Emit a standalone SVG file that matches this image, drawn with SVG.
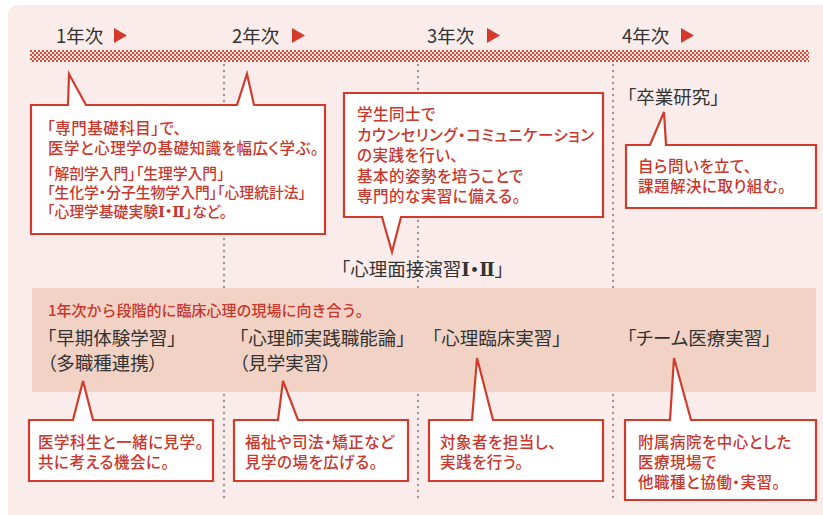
<svg xmlns="http://www.w3.org/2000/svg" width="823" height="515" viewBox="0 0 823 515">
<defs>
<pattern id="chk" width="4" height="4" patternUnits="userSpaceOnUse" x="30" y="50">
<rect width="4" height="4" fill="#fbe9e5"/>
<rect x="0" y="0" width="2" height="2" fill="#dc4a3a"/>
<rect x="2" y="2" width="2" height="2" fill="#dc4a3a"/>
</pattern>
<style>
text{font-family:"Noto Sans CJK JP","Noto Sans",sans-serif;font-feature-settings:"palt";}
.yr{font-size:18.5px;fill:#333;}
.tri{fill:#d33a2c;}
.co{fill:#fff;stroke:#d23a2b;stroke-width:2.2;stroke-linejoin:miter;}
.rt{font-size:15.5px;letter-spacing:0.5px;fill:#c8372c;font-weight:500;}
.rs{font-size:14.8px;fill:#c8372c;font-weight:500;}
.hd{font-size:15px;fill:#c8372c;font-weight:500;font-feature-settings:normal;}
.bk{font-size:18.5px;fill:#333;}
.rn{font-family:"DejaVu Serif","Noto Sans CJK JP",serif;font-weight:bold;letter-spacing:0;}
.dot{stroke:#9a9a9a;stroke-width:2.4;stroke-linecap:round;stroke-dasharray:0 6;fill:none;}
</style>
</defs>
<rect x="8" y="5" width="830" height="530" rx="10" fill="#f9ecea"/>

<g id="timeline">
<rect x="30" y="50" width="779" height="12" fill="url(#chk)"/>
<text class="yr" x="56" y="43">1年次</text>
<polygon class="tri" points="114,28 127,35.5 114,43"/>
<text class="yr" x="232" y="43">2年次</text>
<polygon class="tri" points="292,28 305,35.5 292,43"/>
<text class="yr" x="427" y="43">3年次</text>
<polygon class="tri" points="487,28 500,35.5 487,43"/>
<text class="yr" x="622" y="43">4年次</text>
<polygon class="tri" points="681,28 694,35.5 681,43"/>
</g>

<g id="connectors">
<line class="dot" x1="224" y1="65" x2="224" y2="503"/>
<line class="dot" x1="418" y1="65" x2="418" y2="503"/>
<line class="dot" x1="613" y1="65" x2="613" y2="503"/>
</g>

<g id="band">
<rect x="32" y="288" width="784" height="104" fill="#f2d2c4"/>
<text class="hd" x="48" y="316">1年次から段階的に臨床心理の現場に向き合う。</text>
</g>

<g id="n-year1">
<path class="co" d="M31,105 H68 L69,74 L86,105 H237 L247,74 L254,105 H325 V234 H31 Z"/>
<text class="rt" x="47" y="134">「専門基礎科目」で、</text>
<text class="rt" x="48" y="154">医学と心理学の基礎知識を幅広く学ぶ。</text>
<text class="rs" x="47" y="179">「解剖学入門」「生理学入門」</text>
<text class="rs" x="47" y="198">「生化学・分子生物学入門」「心理統計法」</text>
<text class="rs" x="47" y="217">「心理学基礎実験<tspan class="rn">Ⅰ・Ⅱ</tspan>」など。</text>
</g>

<g id="n-year3">
<path class="co" d="M344,93 H603 V217 H401 L392,252 L382,217 H344 Z"/>
<text class="rt" x="357" y="120">学生同士で</text>
<text class="rt" x="357" y="140.5">カウンセリング・コミュニケーション</text>
<text class="rt" x="357" y="161">の実践を行い、</text>
<text class="rt" x="357" y="181.5">基本的姿勢を培うことで</text>
<text class="rt" x="357" y="202">専門的な実習に備える。</text>
<text class="bk" x="341" y="276">「心理面接演習<tspan class="rn">Ⅰ・Ⅱ</tspan>」</text>
</g>

<g id="n-year4">
<text class="bk" x="627" y="104">「卒業研究」</text>
<path class="co" d="M626,145 H650 L664,112 L666,145 H816 V208 H626 Z"/>
<text class="rt" x="638" y="172">自ら問いを立て、</text>
<text class="rt" x="638" y="192">課題解決に取り組む。</text>
</g>

<g id="n-early">
<text class="bk" x="47" y="345">「早期体験学習」</text>
<text class="bk" x="47" y="370">（多職種連携）</text>
<path class="co" d="M29,420 H73 L83,381 L93,420 H213 V481 H29 Z"/>
<text class="rt" x="38" y="448">医学科生と一緒に見学。</text>
<text class="rt" x="38" y="468">共に考える機会に。</text>
</g>

<g id="n-practice">
<text class="bk" x="239" y="345">「心理師実践職能論」</text>
<text class="bk" x="239" y="370">（見学実習）</text>
<path class="co" d="M234,420 H278 L283,381 L298,420 H408 V481 H234 Z"/>
<text class="rt" x="245" y="448">福祉や司法・矯正など</text>
<text class="rt" x="245" y="468">見学の場を広げる。</text>
</g>

<g id="n-clinical">
<text class="bk" x="432" y="345">「心理臨床実習」</text>
<path class="co" d="M429,420 H472 L477,358 L493,420 H603 V481 H429 Z"/>
<text class="rt" x="440" y="448">対象者を担当し、</text>
<text class="rt" x="440" y="468">実践を行う。</text>
</g>

<g id="n-team">
<text class="bk" x="627" y="345">「チーム医療実習」</text>
<path class="co" d="M625,420 H670 L674,358 L691,420 H816 V500 H625 Z"/>
<text class="rt" x="638" y="448">附属病院を中心とした</text>
<text class="rt" x="638" y="468">医療現場で</text>
<text class="rt" x="638" y="488">他職種と協働・実習。</text>
</g>
</svg>
